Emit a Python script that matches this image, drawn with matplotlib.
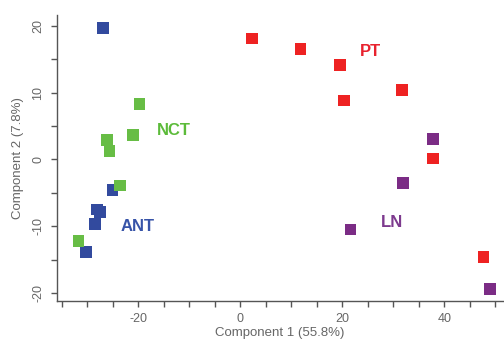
import matplotlib
matplotlib.use("Agg")
import matplotlib.pyplot as plt
import numpy as np

plt.rcParams['font.family'] = ['Liberation Sans', 'DejaVu Sans']
plt.rcParams['axes.unicode_minus'] = False

ant_x = [-26.9, -25.0, -28.1, -27.5, -28.5, -30.2]
ant_y = [19.7, -4.6, -7.5, -7.9, -9.7, -13.9]
nct_x = [-19.7, -21.0, -26.1, -25.6, -23.5, -31.7]
nct_y = [8.3, 3.6, 2.9, 1.25, -3.9, -12.2]
pt_x = [2.3, 11.8, 19.6, 20.4, 31.7, 37.8, 47.7]
pt_y = [18.1, 16.5, 14.1, 8.8, 10.4, 0.1, -14.6]
ln_x = [37.8, 31.9, 21.6, 49.0]
ln_y = [3.05, -3.55, -10.5, -19.4]

groups = ["ANT", "NCT", "PT", "LN"]
label_pos = {"NCT": (-16.3, 4.3), "ANT": (-23.5, -10.1), "PT": (23.5, 16.1), "LN": (27.5, -9.5)}
colors = {"ANT": "#324a9e", "NCT": "#67bd45", "PT": "#ee2222", "LN": "#7b2c85"}
text_colors = {"ANT": "#3753a8", "NCT": "#5cbb3a", "PT": "#e8222e", "LN": "#7d3a8e"}
data = {"ANT": (ant_x, ant_y), "NCT": (nct_x, nct_y), "PT": (pt_x, pt_y), "LN": (ln_x, ln_y)}

fig = plt.figure(figsize=(5.04, 3.42), dpi=100)
ax = fig.add_axes([0.113, 0.12, 0.885, 0.836])

for g in ["PT", "LN", "ANT", "NCT"]:
    xs, ys = data[g]
    ax.scatter(xs, ys, marker="s", s=70, color=colors[g], edgecolors="none", clip_on=False, zorder=3)

for g in groups:
    x, y = label_pos[g]
    ax.text(x, y, g, color=text_colors[g], fontsize=12, fontweight="bold", va="center", ha="left")

ax.set_xlim(-35.9, 51.5)
ax.set_ylim(-21.2, 21.6)
ax.set_xticks([-20, 0, 20, 40])
ax.set_xticks(np.arange(-35, 51, 5), minor=True)
ax.set_yticks([-20, -10, 0, 10, 20])
ax.set_yticks([-15, -5, 5, 15], minor=True)
for lab in ax.get_yticklabels():
    lab.set_rotation(90)
    lab.set_va("center")

gray = "#555555"
for s in ["top", "right"]:
    ax.spines[s].set_visible(False)
for s in ["left", "bottom"]:
    ax.spines[s].set_color(gray)
    ax.spines[s].set_linewidth(1.0)
ax.tick_params(which="both", direction="out", colors=gray, labelcolor="#666666", labelsize=9)
ax.tick_params(which="major", length=4, width=1, pad=5)
ax.tick_params(which="minor", length=4, width=1)
ax.set_xlabel("Component 1 (55.8%)", fontsize=9.5, color="#666666", labelpad=1)
ax.set_ylabel("Component 2 (7.8%)", fontsize=9.5, color="#666666", labelpad=6)

fig.savefig("out.png", dpi=100)
